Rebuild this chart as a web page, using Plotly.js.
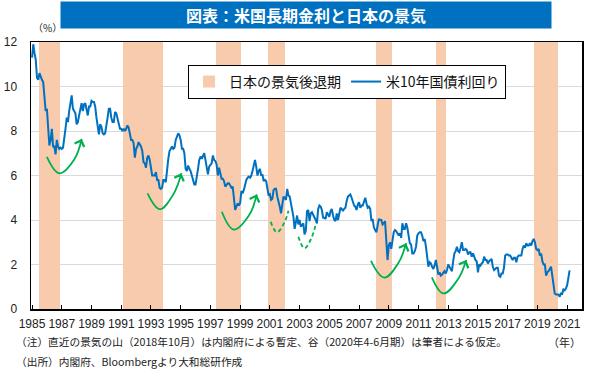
<!DOCTYPE html>
<html><head><meta charset="utf-8">
<script src="https://cdn.plot.ly/plotly-3.0.1.min.js"></script>
<style>html,body{margin:0;padding:0;background:#fff}#chart{width:600px;height:369px}</style>
</head><body><div id="chart"></div>
<script>
// ---- data ----
const firstYear = 1985;          // monthly series starting Jan 1985
const usYield10 = [
 11.3,11.9,11.5,11.2,10.4,10.3,10.6,10.4,10.3,10.2,9.3,8.9,
 9.0,7.9,7.35,7.6,8.1,7.3,7.3,6.95,7.6,7.3,7.2,7.25,
 7.2,7.25,7.6,8.1,8.6,8.4,8.9,9.2,9.6,9.0,8.9,8.8,
 8.3,8.4,8.7,9.0,9.25,8.9,9.2,9.25,8.9,8.7,9.1,9.1,
 9.35,9.3,9.3,9.1,8.6,8.1,7.85,8.3,8.2,7.9,7.85,7.9,
 8.4,8.6,9.0,9.0,8.6,8.4,8.4,8.85,8.8,8.6,8.3,8.1,
 8.1,8.0,8.1,8.0,8.1,8.25,8.15,7.8,7.6,7.6,7.45,6.8,
 7.2,7.3,7.5,7.4,7.3,7.1,6.6,6.55,6.35,6.8,6.9,6.7,
 6.4,6.0,6.0,6.0,6.15,5.8,5.8,5.45,5.4,5.45,5.8,5.8,
 5.7,6.3,6.75,7.1,7.2,7.3,7.2,7.25,7.6,7.8,7.9,7.8,
 7.6,7.2,7.2,7.0,6.3,6.2,6.45,6.3,6.2,6.0,5.75,5.6,
 5.6,6.1,6.3,6.7,6.85,6.75,6.9,7.0,6.7,6.35,6.05,6.4,
 6.5,6.55,6.9,6.7,6.65,6.5,6.0,6.35,6.1,5.85,5.85,5.75,
 5.5,5.6,5.65,5.65,5.55,5.45,5.5,5.0,4.45,4.6,4.75,4.65,
 4.75,5.3,5.2,5.35,5.6,5.8,5.9,5.95,5.9,6.0,6.2,6.45,
 6.7,6.4,6.0,6.2,6.3,6.0,6.05,5.75,5.8,5.75,5.5,5.1,
 5.15,4.9,4.95,5.35,5.4,5.4,5.05,4.85,4.6,4.3,4.75,5.05,
 5.0,4.9,5.4,5.1,5.05,4.8,4.45,4.15,3.6,3.9,4.2,3.8,
 4.0,3.7,3.8,3.85,3.35,3.5,4.4,4.45,3.95,4.3,4.35,4.25,
 4.15,4.0,3.85,4.5,4.65,4.6,4.45,4.1,4.1,4.05,4.35,4.25,
 4.15,4.4,4.5,4.2,4.0,3.95,4.3,4.0,4.35,4.55,4.5,4.4,
 4.5,4.55,4.85,5.05,5.1,5.15,5.0,4.75,4.65,4.6,4.45,4.7,
 4.8,4.55,4.65,4.65,4.9,5.0,4.75,4.55,4.6,4.5,3.95,4.05,
 3.65,3.55,3.45,3.75,4.05,4.0,4.0,3.8,3.85,3.95,2.95,2.2,
 2.85,3.0,2.7,3.1,3.45,3.55,3.5,3.4,3.3,3.4,3.2,3.85,
 3.6,3.6,3.85,3.65,3.3,2.95,2.9,2.5,2.5,2.6,2.8,3.3,
 3.4,3.45,3.45,3.3,3.05,3.15,2.8,2.2,1.9,2.1,2.05,1.9,
 1.8,1.95,2.2,1.9,1.55,1.65,1.5,1.55,1.65,1.7,1.6,1.75,
 2.0,1.9,1.85,1.7,2.15,2.5,2.6,2.8,2.6,2.55,2.75,3.0,
 2.65,2.65,2.7,2.65,2.45,2.55,2.55,2.35,2.5,2.35,2.2,2.15,
 1.65,2.0,1.95,2.05,2.1,2.35,2.2,2.2,2.05,2.15,2.2,2.25,
 1.9,1.75,1.8,1.85,1.85,1.5,1.45,1.6,1.6,1.85,2.4,2.45,
 2.45,2.4,2.4,2.3,2.2,2.3,2.3,2.1,2.35,2.4,2.4,2.4,
 2.7,2.85,2.75,2.95,2.85,2.85,2.95,2.85,3.05,3.15,3.0,2.7,
 2.65,2.7,2.4,2.5,2.15,2.0,2.0,1.5,1.65,1.7,1.8,1.9,
 1.5,1.15,0.7,0.65,0.65,0.65,0.55,0.7,0.68,0.88,0.84,0.92,
 1.07,1.4,1.74
];
// Japan recessions (peak -> trough), year-month
const recessionPeak   = ['1985-06','1991-02','1997-05','2000-11','2008-02','2012-03','2018-10'];
const recessionTrough = ['1986-11','1993-10','1999-01','2002-01','2009-03','2012-11','2020-05'];
const xTickYears = [1985,1987,1989,1991,1993,1995,1997,1999,2001,2003,2005,2007,2009,2011,2013,2015,2017,2019,2021];
const yTicks = [0,2,4,6,8,10,12];
// green "recovery" arrows: [start, bottom, mid-right, head] as [year, %]
const arrowPaths = [
 [[1986.0,6.84],[1986.84,6.1],[1987.84,6.72],[1988.34,7.64]],
 [[1992.77,5.2],[1993.6,4.49],[1994.51,5.16],[1995.05,6.1]],
 [[1997.77,4.37],[1998.57,3.57],[1999.59,4.2],[2000.12,5.15]],
 [[2001.06,3.92],[2001.47,3.45],[2001.95,3.85],[2002.25,4.42]],
 [[2002.92,3.25],[2003.33,2.73],[2003.8,3.2],[2004.1,3.85]],
 [[2007.8,2.16],[2008.7,1.41],[2009.64,2.06],[2010.17,2.95]],
 [[2011.9,1.42],[2012.68,0.7],[2013.67,1.35],[2014.21,2.2]]
];
const arrowDashed = [false,false,false,true,true,false,false];
const labels = {
  title: '図表：米国長期金利と日本の景気',
  recession: '日本の景気後退期',
  yield: '米10年国債利回り',
  unit: '（%）',
  year: '（年）',
  note: '（注）直近の景気の山（2018年10月）は内閣府による暫定、谷（2020年4-6月期）は筆者による仮定。',
  source: '（出所）内閣府、Bloombergより大和総研作成'
};

// ---- build ----
const ym = s => { const [y,m] = s.split('-').map(Number); return [y,m]; };
const recStart = recessionPeak.map(s => { const [y,m]=ym(s); return y + (m-0.5)/12; });
const recEnd   = recessionTrough.map(s => { const [y,m]=ym(s); return y + (m-0.4)/12; });
const yieldX = usYield10.map((v,i) => firstYear + i/12);

const JP = '"Noto Sans CJK JP", "Noto Sans", sans-serif';
const NUM = '"Liberation Sans", Arial, sans-serif';
const GREEN = '#00B050';

const traces = [
  {
    type:'bar', name: labels.recession,
    x: recStart.map((s,i)=>(s+recEnd[i])/2),
    width: recStart.map((s,i)=>recEnd[i]-s),
    y: recStart.map(()=>yTicks[yTicks.length-1]),
    base: 0,
    marker:{color:'#F8CBAD', line:{width:0}},
    hoverinfo:'skip'
  },
  {
    type:'scatter', mode:'lines', name: labels.yield,
    x: yieldX, y: usYield10,
    line:{color:'#0070C0', width:2}
  }
];
const annotations = [];
arrowPaths.forEach((p,k)=>{
  traces.push({
    type:'scatter', mode:'lines', showlegend:false, hoverinfo:'skip',
    x: p.map(q=>q[0]), y: p.map(q=>q[1]),
    line:{color:GREEN, width:1.8, shape:'spline', smoothing:1.1, dash: arrowDashed[k]?'4px,3px':'solid'}
  });
  const h = p[3], m = p[2];
  annotations.push({
    x:h[0], y:h[1], ax: h[0] + 0.25*(m[0]-h[0]), ay: h[1] + 0.25*(m[1]-h[1]),
    xref:'x', yref:'y', axref:'x', ayref:'y', text:'', showarrow:true,
    arrowhead:4, arrowsize:1.1, arrowwidth:1.8, arrowcolor:GREEN, standoff:0
  });
});
// text annotations (paper coords)
annotations.push(
  {xref:'paper', yref:'paper', x:0.499, y:1.101, xanchor:'center', yanchor:'middle',
   text:'<b>'+labels.title+'</b>', showarrow:false, bgcolor:'#0070C0', width:488, height:24,
   font:{family:JP, size:16, color:'#ffffff'}},
  {xref:'paper', yref:'paper', x:0.0, y:1.018, xanchor:'left', yanchor:'bottom',
   text:labels.unit, showarrow:false, font:{family:JP, size:10, color:'#222'}},
  {xref:'paper', yref:'paper', x:-0.031, y:-0.1225, xanchor:'left', yanchor:'middle',
   text:labels.note, showarrow:false, font:{family:JP, size:10.7, color:'#222'}},
  {xref:'paper', yref:'paper', x:1.002, y:-0.1225, xanchor:'right', yanchor:'middle',
   text:labels.year, showarrow:false, font:{family:JP, size:11, color:'#222'}},
  {xref:'paper', yref:'paper', x:-0.031, y:-0.197, xanchor:'left', yanchor:'middle',
   text:labels.source, showarrow:false, font:{family:JP, size:10.7, color:'#222'}}
);

const layout = {
  width:600, height:369,
  margin:{l:31, r:18, t:42, b:60, pad:0},
  paper_bgcolor:'#fff', plot_bgcolor:'#fff',
  showlegend:true,
  legend:{orientation:'h', x:0.285, y:0.914, xanchor:'left', yanchor:'top',
          bordercolor:'#000', borderwidth:1, bgcolor:'#fff',
          font:{family:JP, size:14, color:'#111'}, traceorder:'normal'},
  xaxis:{range:[1984.93, 2022.0], tickvals:xTickYears, ticktext:xTickYears.map(String),
         tickangle:0,
         ticks:'inside', ticklen:4, tickwidth:1, tickcolor:'#000',
         showline:true, linecolor:'#000', linewidth:1.5, mirror:true,
         showgrid:false, zeroline:false, fixedrange:true,
         tickfont:{family:NUM, size:12, color:'#222'}, ticklabelstandoff:3},
  yaxis:{range:[0,12], tickvals:yTicks, ticks:'',
         showline:true, linecolor:'#000', linewidth:1.5, mirror:true,
         showgrid:true, gridcolor:'#d9d9d9', gridwidth:1, zeroline:false, fixedrange:true,
         tickfont:{family:NUM, size:12, color:'#222'}, ticklabelstandoff:10},
  annotations: annotations,
  bargap:0
};
Plotly.newPlot('chart', traces, layout, {staticPlot:true, displayModeBar:false});
</script></body></html>
